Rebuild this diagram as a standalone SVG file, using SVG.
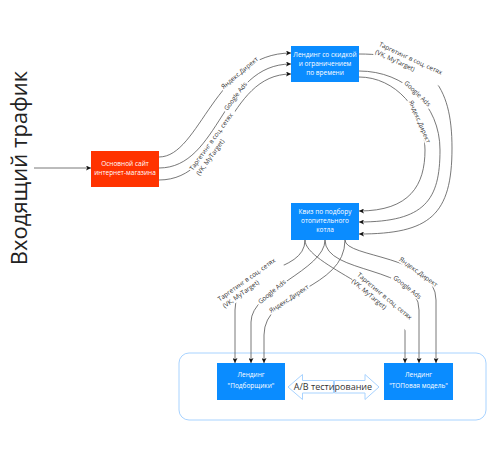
<svg xmlns="http://www.w3.org/2000/svg" width="504" height="460" viewBox="0 0 504 460">
<defs>
<marker id="arr" viewBox="0 0 10 10" refX="10" refY="5" markerWidth="6" markerHeight="5" markerUnits="userSpaceOnUse" orient="auto">
<path d="M0,0 L10,5 L0,10 L2.5,5 z" fill="#111"/>
</marker>
</defs>
<style>
.edge{fill:none;stroke:#555;stroke-width:0.8;marker-end:url(#arr)}
.lbl text{font-family:"Open Sans","DejaVu Sans",sans-serif;font-size:6.4px;fill:#333}
.lbl rect{fill:#fff}
.c text{text-anchor:middle}
.node text{font-family:"Open Sans","DejaVu Sans",sans-serif;font-size:6.5px;fill:#fff;text-anchor:middle}
.blue{fill:#0A8CFF}
.red{fill:#FF3300}
</style>
<rect width="504" height="460" fill="#fff"/>

<g id="title">
<text transform="translate(27,168) rotate(-90)" text-anchor="middle" font-family="Open Sans, DejaVu Sans, sans-serif" font-size="22" fill="#222">Входящий трафик</text>
</g>

<g id="ab-container">
<rect x="179" y="353" width="307" height="67" rx="10" ry="10" fill="none" stroke="#A8D3FF" stroke-width="1"/>
</g>

<g id="edges">
<path class="edge" d="M34,168 L91,168"/>
<path class="edge" d="M159,157 C200,157 215,53 291,53"/>
<path class="edge" d="M159,168 C220,168 222,64 291,64"/>
<path class="edge" d="M159,180 C225,180 225,74 291,74"/>
<path class="edge" d="M359,54 C430,54 452,85 452,148 C452,215 430,234 359,234"/>
<path class="edge" d="M359,71 C405,71 440,105 440,150 C440,200 425,222 359,222"/>
<path class="edge" d="M359,77 C395,77 425,110 425,150 C425,185 410,211 359,211"/>
<path class="edge" d="M305,240 C305,275 235,265 235,310 L235,363"/>
<path class="edge" d="M325,240 C325,270 251,290 251,322 L251,363"/>
<path class="edge" d="M345,240 C345,290 264,290 264,335 L264,363"/>
<path class="edge" d="M305,240 C305,265 405,295 405,330 L405,363"/>
<path class="edge" d="M325,240 C325,275 419,265 419,310 L419,363"/>
<path class="edge" d="M345,240 C345,258 436,255 436,300 L436,363"/>

<g class="lbl c" transform="translate(239.6,72.9) rotate(-40)"><rect x="-24" y="-3.7" width="48" height="7.4"/><text y="2.2">Яндекс.Директ</text></g>
<g class="lbl c" transform="translate(235.5,96.2) rotate(-53)"><rect x="-18.5" y="-3.7" width="37" height="7.4"/><text y="2.2">Google Ads</text></g>
<g class="lbl" transform="translate(215,142.7) rotate(-54)"><rect x="-37" y="-7" width="74" height="16"/>
<text x="-36" y="-1.5">Таргетинг в соц. сетях</text>
<text x="-36" y="7">(VK, MyTarget)</text>
</g>

<g class="lbl" transform="translate(410.4,62.4) rotate(25)"><rect x="-37" y="-7" width="74" height="16"/>
<text x="-36" y="-1.5">Таргетинг в соц. сетях</text>
<text x="-36" y="7">(VK, MyTarget)</text>
</g>
<g class="lbl c" transform="translate(417.5,93.6) rotate(44)"><rect x="-18.5" y="-3.7" width="37" height="7.4"/><text y="2.2">Google Ads</text></g>
<g class="lbl c" transform="translate(419.7,121.7) rotate(67)"><rect x="-24" y="-3.7" width="48" height="7.4"/><text y="2.2">Яндекс.Директ</text></g>

<g class="lbl" transform="translate(250,281.7) rotate(-35.6)"><rect x="-37" y="-7" width="74" height="16"/>
<text x="-36" y="-1.5">Таргетинг в соц. сетях</text>
<text x="-36" y="7">(VK, MyTarget)</text>
</g>
<g class="lbl c" transform="translate(271.9,291.8) rotate(-40)"><rect x="-18.5" y="-3.7" width="37" height="7.4"/><text y="2.2">Google Ads</text></g>
<g class="lbl c" transform="translate(289,298.8) rotate(-33)"><rect x="-24" y="-3.7" width="48" height="7.4"/><text y="2.2">Яндекс.Директ</text></g>

<g class="lbl" transform="translate(383.4,299.9) rotate(40)"><rect x="-37" y="-7" width="74" height="16"/>
<text x="-36" y="-1.5">Таргетинг в соц. сетях</text>
<text x="-36" y="7">(VK, MyTarget)</text>
</g>
<g class="lbl c" transform="translate(407.4,287.2) rotate(38.5)"><rect x="-18.5" y="-3.7" width="37" height="7.4"/><text y="2.2">Google Ads</text></g>
<g class="lbl c" transform="translate(418.6,272) rotate(36)"><rect x="-24" y="-3.7" width="48" height="7.4"/><text y="2.2">Яндекс.Директ</text></g>
</g>

<g id="main-site" class="node">
<rect class="red" x="91" y="151" width="68" height="36"/>
<text x="125" y="166.2">Основной сайт</text>
<text x="125" y="174.9">интернет-магазина</text>
</g>

<g id="landing-discount" class="node">
<rect class="blue" x="291" y="46" width="68" height="36"/>
<text x="325" y="57.2">Лендинг со скидкой</text>
<text x="325" y="66.2">и ограничением</text>
<text x="325" y="75.2">по времени</text>
</g>

<g id="quiz" class="node">
<rect class="blue" x="291" y="203" width="68" height="37"/>
<text x="325" y="214.2">Квиз по подбору</text>
<text x="325" y="223.2">отопительного</text>
<text x="325" y="232.2">котла</text>
</g>

<g id="landing-podbor" class="node">
<rect class="blue" x="217" y="363" width="68" height="37"/>
<text x="251" y="377.2">Лендинг</text>
<text x="251" y="387.9">"Подборщики"</text>
</g>

<g id="landing-top" class="node">
<rect class="blue" x="384" y="363" width="69" height="37"/>
<text x="418.5" y="377.2">Лендинг</text>
<text x="418.5" y="387.9">"ТОПовая модель"</text>
</g>

<g id="ab-test">
<polygon points="288,387 302.5,374.5 302.5,380.5 333.5,380.5 333.5,393 302.5,393 302.5,399.5" fill="#fff" stroke="#A8D3FF" stroke-width="1"/>
<polygon points="379,387 365,374.5 365,380.5 334.5,380.5 334.5,393 365,393 365,399.5" fill="#fff" stroke="#A8D3FF" stroke-width="1"/>
<text x="333" y="390.3" text-anchor="middle" font-family="Open Sans, DejaVu Sans, sans-serif" font-size="9" fill="#333">A/B тестирование</text>
</g>
</svg>
